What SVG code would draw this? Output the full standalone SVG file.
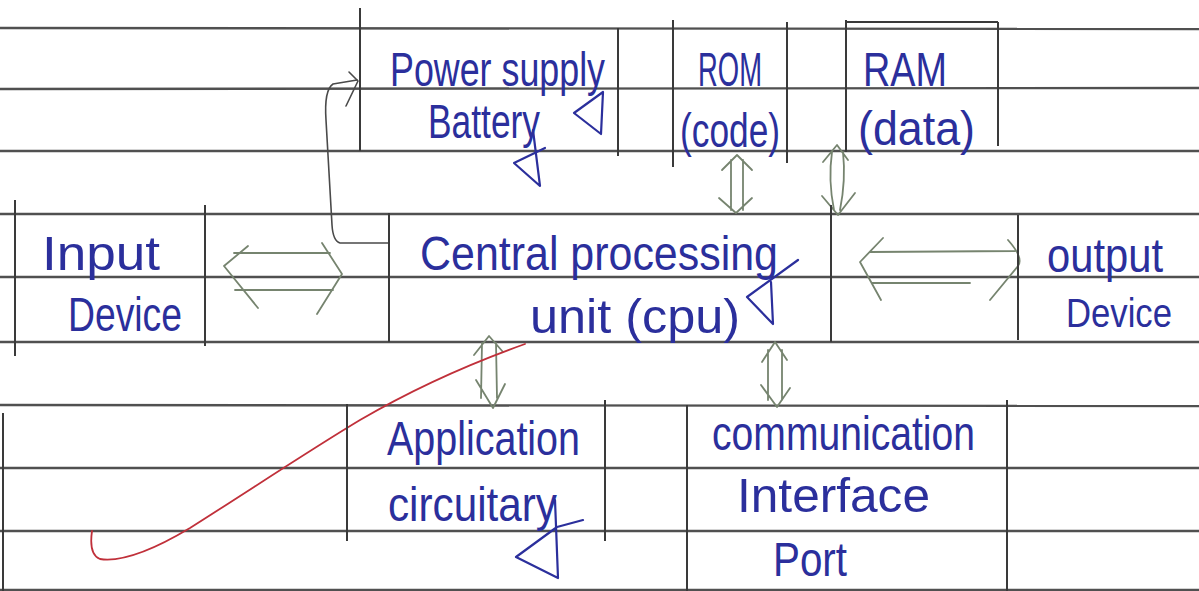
<svg xmlns="http://www.w3.org/2000/svg" width="1199" height="591" viewBox="0 0 1199 591">
<defs>
<style>
.rule{stroke:#505050;stroke-width:2.4;fill:none}
.box{stroke:#3a3a3a;stroke-width:2;fill:none}
.arr{stroke:#76846f;stroke-width:1.8;fill:none;stroke-linecap:round;stroke-linejoin:round}
.pen{stroke:#4a4a4a;stroke-width:1.6;fill:none;stroke-linecap:round;stroke-linejoin:round}
.ink{fill:#2b2f9c;font-family:"Liberation Sans","DejaVu Sans",sans-serif;font-size:48px}
.tick{stroke:#2b2f9c;stroke-width:2.2;fill:none;stroke-linecap:round;stroke-linejoin:round}
.red{stroke:#c0303a;stroke-width:1.8;fill:none;stroke-linecap:round}
</style>
</defs>
<rect width="1199" height="591" fill="#ffffff"/>
<g id="paper">
<line class="rule" x1="0" y1="28" x2="1199" y2="29"/>
<line class="rule" x1="0" y1="89" x2="1199" y2="88"/>
<line class="rule" x1="0" y1="151" x2="1199" y2="151"/>
<line class="rule" x1="0" y1="214" x2="1199" y2="214"/>
<line class="rule" x1="0" y1="277" x2="1199" y2="277"/>
<line class="rule" x1="0" y1="342" x2="1199" y2="342"/>
<line class="rule" x1="0" y1="405" x2="1199" y2="406"/>
<line class="rule" x1="0" y1="468" x2="1199" y2="468"/>
<line class="rule" x1="0" y1="531" x2="1199" y2="531"/>
<line class="rule" x1="0" y1="590" x2="1199" y2="590"/>
<line class="box" x1="3" y1="413" x2="3" y2="591"/>
</g>
<g id="connectors">
<path class="pen" d="M388,243 L340,243 Q333,241 332,225 L326,120 Q324,90 333,84 L357,80"/>
<path class="pen" d="M349,72 L358,81 L346,106"/>
<path class="arr" d="M248,246 L224,266 L258,308 M234,253 L330,253 M235,290 L333,290 M322,243 L342,274 L317,314"/>
<path class="arr" d="M883,238 L860,262 L881,300 M870,252 L1015,251 M872,283 L970,283 M1008,240 Q1024,258 1018,266 L990,300"/>
<path class="arr" d="M722,170 L737,155 L752,170 M731,160 L731,210 M743,160 L743,210 M719,198 L736,213 L752,198"/>
<path class="arr" d="M823,162 L837,145 L848,160 M832,152 Q828,180 834,210 M843,152 Q846,180 840,210 M822,196 L838,215 L855,193"/>
<path class="arr" d="M474,355 L489,336 L503,352 M482,343 L481,398 M496,343 L497,398 M476,380 L493,408 L505,384"/>
<path class="arr" d="M762,362 L775,342 L787,360 M768,350 L768,400 M782,350 L782,400 M761,385 L777,407 L790,388"/>
<path class="red" d="M525,344 C480,360 420,385 360,420 C310,450 250,490 190,528 C150,552 120,562 100,559 C92,556 90,545 92,531"/>
</g>
<g id="power-supply">
<path class="box" d="M360,8 L360,151 M618,28 L618,156"/>
<text class="ink" x="390" y="86" textLength="215" lengthAdjust="spacingAndGlyphs">Power supply</text>
<text class="ink" x="428" y="138" textLength="112" lengthAdjust="spacingAndGlyphs">Battery</text>
<path class="tick" d="M603,92 L574,113 L601,134 L603,92"/>
<path class="tick" d="M533,130 L540,186 L514,163 L545,148"/>
</g>
<g id="rom">
<path class="box" d="M673,20 L673,167 M787,22 L787,163"/>
<text class="ink" x="698" y="86" textLength="64" lengthAdjust="spacingAndGlyphs">ROM</text>
<text class="ink" x="680" y="147" textLength="100" lengthAdjust="spacingAndGlyphs">(code)</text>
</g>
<g id="ram">
<path class="box" d="M846,20 L846,152 M846,22 L998,22 M998,22 L998,146"/>
<text class="ink" x="863" y="86" textLength="84" lengthAdjust="spacingAndGlyphs">RAM</text>
<text class="ink" x="858" y="145" textLength="117" lengthAdjust="spacingAndGlyphs">(data)</text>
</g>
<g id="input-device">
<path class="box" d="M15,200 L15,356 M205,205 L205,346"/>
<text class="ink" x="42" y="270" textLength="118" lengthAdjust="spacingAndGlyphs">Input</text>
<text class="ink" x="68" y="331" textLength="114" lengthAdjust="spacingAndGlyphs">Device</text>
</g>
<g id="cpu">
<path class="box" d="M389,213 L389,342 M831,205 L831,342"/>
<text class="ink" x="420" y="270" textLength="358" lengthAdjust="spacingAndGlyphs">Central processing</text>
<text class="ink" x="530" y="333" textLength="210" lengthAdjust="spacingAndGlyphs">unit (cpu)</text>
<path class="tick" d="M798,260 L747,297 L773,324 L771,282"/>
</g>
<g id="output-device">
<path class="box" d="M1018,215 L1018,340"/>
<text class="ink" x="1047" y="272" textLength="116" lengthAdjust="spacingAndGlyphs">output</text>
<text class="ink" x="1066" y="327" textLength="106" lengthAdjust="spacingAndGlyphs" style="font-size:40px">Device</text>
</g>
<g id="application">
<path class="box" d="M347,404 L347,541 M605,400 L605,541"/>
<text class="ink" x="387" y="455" textLength="193" lengthAdjust="spacingAndGlyphs">Application</text>
<text class="ink" x="388" y="521" textLength="169" lengthAdjust="spacingAndGlyphs">circuitary</text>
<path class="tick" d="M583,520 L557,527 L516,557 L558,578 L555,500"/>
</g>
<g id="communication">
<path class="box" d="M687,405 L687,591 M1007,400 L1007,591"/>
<text class="ink" x="712" y="450" textLength="263" lengthAdjust="spacingAndGlyphs">communication</text>
<text class="ink" x="737" y="512" textLength="193" lengthAdjust="spacingAndGlyphs">Interface</text>
<text class="ink" x="773" y="576" textLength="74" lengthAdjust="spacingAndGlyphs">Port</text>
</g>
</svg>
